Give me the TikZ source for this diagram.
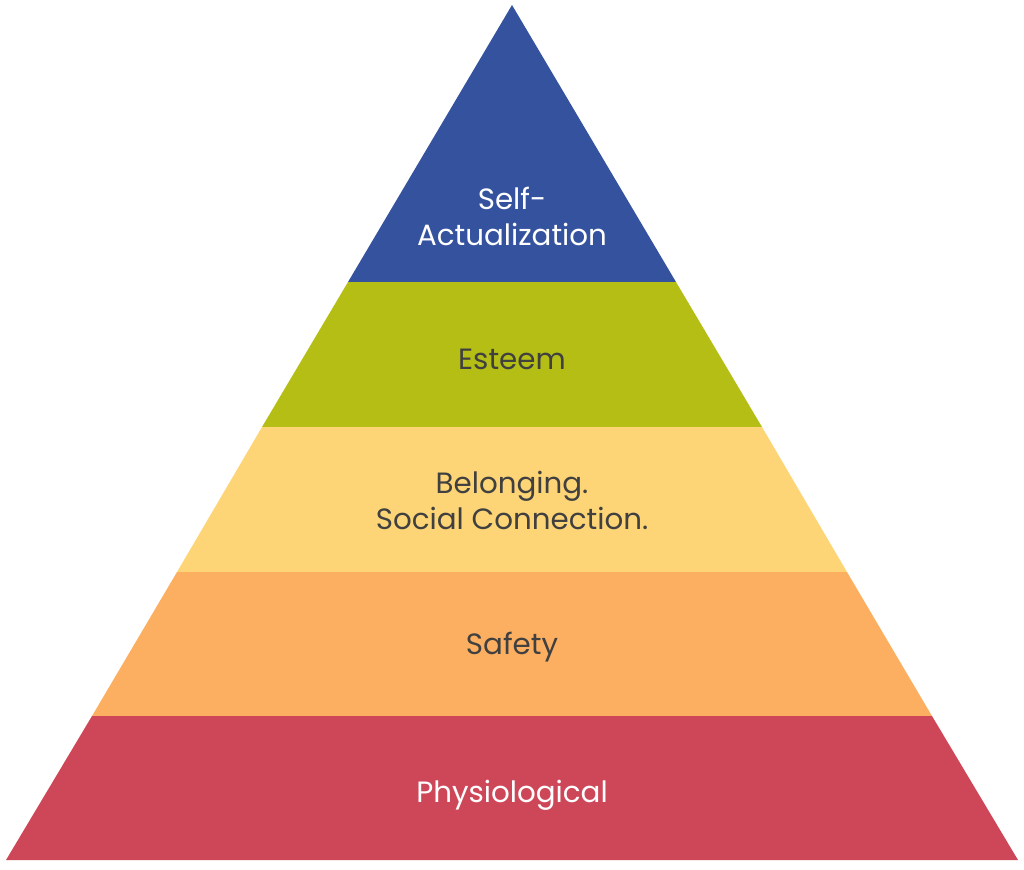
\documentclass[tikz,border=0pt]{standalone}
\usepackage{fontspec}
\setmainfont{Poppins}
\definecolor{selfblue}{RGB}{52,82,158}
\definecolor{esteemgreen}{RGB}{180,190,20}
\definecolor{belongyellow}{RGB}{253,213,118}
\definecolor{safeorange}{RGB}{252,175,96}
\definecolor{physred}{RGB}{206,71,88}
\definecolor{darktext}{RGB}{64,64,64}
\tikzset{
  level/.style={font=\fontsize{22}{27}\selectfont,align=center,text=darktext},
  levelwhite/.style={level,text=white}
}
\begin{document}
\begin{tikzpicture}[x=0.75pt,y=0.75pt,yscale=-1,xscale=1]
\useasboundingbox (0,0) rectangle (1024,869);

%Shape: Triangle top
\fill [selfblue]   (512,5) -- (676,282) -- (348,282) -- cycle ;
%Shape: Band
\fill [esteemgreen]   (348,282) -- (676,282) -- (762,427) -- (262,427) -- cycle ;
%Shape: Band
\fill [belongyellow]   (262,427) -- (762,427) -- (847,572) -- (177,572) -- cycle ;
%Shape: Band
\fill [safeorange]   (177,572) -- (847,572) -- (932,716) -- (92,716) -- cycle ;
%Shape: Band
\fill [physred]   (92,716) -- (932,716) -- (1018,860) -- (6,860) -- cycle ;

% Text Node
\node (selfact) [levelwhite] at (512,216) {Self-\\Actualization};
% Text Node
\node (esteem) [level] at (512,359) {Esteem};
% Text Node
\node (belong) [level] at (512,500) {Belonging.\\Social Connection.};
% Text Node
\node (safety) [level] at (512,647) {Safety};
% Text Node
\node (physio) [levelwhite] at (512,795) {Physiological};

\end{tikzpicture}
\end{document}
